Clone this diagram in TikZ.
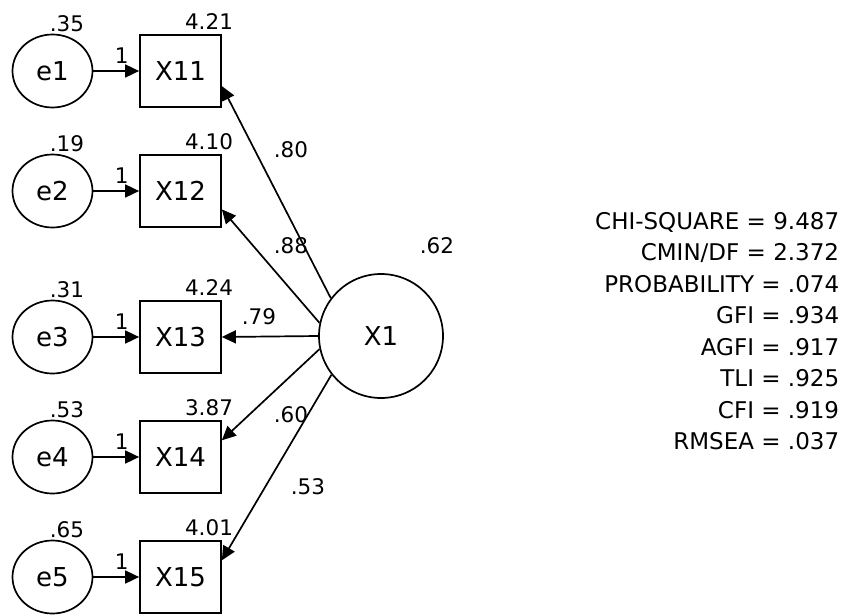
\documentclass[tikz,border=0pt]{standalone}
\usepackage{fontspec}
\setmainfont{DejaVu Sans}
\usetikzlibrary{shapes.geometric,arrows.meta}
\begin{document}
\begin{tikzpicture}[x=1pt,y=-1pt,line width=1.7pt,
  >={Triangle[length=14pt,width=13pt]},
  err/.style={ellipse,draw,minimum width=80pt,minimum height=73pt,inner sep=0pt,font=\fontsize{26}{26}\selectfont},
  obs/.style={rectangle,draw,minimum width=81pt,minimum height=72pt,inner sep=0pt,font=\fontsize{26}{26}\selectfont},
  lat/.style={circle,draw,minimum size=124pt,inner sep=0pt,font=\fontsize{26}{26}\selectfont},
  lbl/.style={inner sep=0pt,text height=15.5pt,text depth=0pt,font=\fontsize{21.5}{21.5}\selectfont},
  fit/.style={anchor=east,inner sep=0pt,text height=16.5pt,text depth=0pt,font=\fontsize{23}{23}\selectfont},
  path/.style={->}]
\useasboundingbox (0,0) rectangle (848,615);
% latent
\node[lat] (X1) at (381,336) {X1};
\node[lbl] (v62) at (437,246) {.62};
% rows
\foreach \i/\y/\ev/\mv in {1/71/.35/4.21, 2/191/.19/4.10, 3/337/.31/4.24, 4/457/.53/3.87, 5/577/.65/4.01}{
  \node[err] (e\i) at (52.5,\y) {e\i};
  \node[obs] (X1\i) at (180.5,\y) {X1\i};
  \node[lbl] (ev\i) at (67,\y-47) {\ev};
  \node[lbl] (mv\i) at (209,\y-49) {\mv};
  \draw[path] (e\i.east) -- (X1\i.west) node[lbl,pos=0.62,above=7pt] (one\i) {1};
}
% loadings
\draw[path] (X1.143) -- (X11.-20);
\draw[path] (X1.168) -- (X12.-24);
\draw[path] (X1.west) -- (X13.east);
\draw[path] (X1.192) -- (X14.22);
\draw[path] (X1.218) -- (X15.22);
\node[lbl] (l80) at (291,150) {.80};
\node[lbl] (l88) at (291,246) {.88};
\node[lbl] (l79) at (259,317) {.79};
\node[lbl] (l60) at (291,415) {.60};
\node[lbl] (l53) at (308,487) {.53};
% fit statistics
\node[fit] (f1) at (840,221) {CHI-SQUARE = 9.487};
\node[fit] (f2) at (840,252.5) {CMIN/DF = 2.372};
\node[fit] (f3) at (840,284) {PROBABILITY = .074};
\node[fit] (f4) at (840,315.5) {GFI = .934};
\node[fit] (f5) at (840,347) {AGFI = .917};
\node[fit] (f6) at (840,378.5) {TLI = .925};
\node[fit] (f7) at (840,410) {CFI = .919};
\node[fit] (f8) at (840,441.5) {RMSEA = .037};
\end{tikzpicture}
\end{document}
